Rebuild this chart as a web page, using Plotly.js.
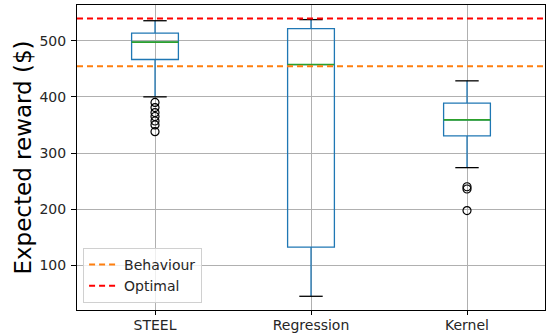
<!DOCTYPE html>
<html>
<head>
<meta charset="utf-8">
<script src="https://cdn.plot.ly/plotly-3.0.1.min.js"></script>
<style>html,body{margin:0;padding:0;background:#fff;}#chart{width:550px;height:335px;}</style>
</head>
<body>
<div id="chart"></div>
<script>
// Data
const categories = ["STEEL", "Regression", "Kernel"];
const positions = [1, 2, 3];
const lowerWhisker = [400, 45, 274];
const q1 = [466.5, 132.5, 330.5];
const median = [497.5, 457.5, 359];
const q3 = [513.5, 521.5, 389];
const upperWhisker = [535.5, 537.5, 428.5];
const outliersSTEEL = [390, 381, 372, 365, 357, 350, 338];
const outliersRegression = [];
const outliersKernel = [240, 236, 197.5];
const behaviourValue = 454.5;
const optimalValue = 539.5;

const outliers = [outliersSTEEL, outliersRegression, outliersKernel];
const boxWidth = 0.3;
const capHalf = 0.075;
const traces = [];

// boxes
categories.forEach((c, i) => {
  traces.push({
    type: "box", x: [positions[i]], q1: [q1[i]], median: [median[i]], q3: [q3[i]],
    lowerfence: [lowerWhisker[i]], upperfence: [upperWhisker[i]],
    width: boxWidth, whiskerwidth: 0, fillcolor: "rgba(0,0,0,0)",
    line: {color: "#1f77b4", width: 1.3}, boxpoints: false,
    showlegend: false, hoverinfo: "skip", name: c
  });
});
// caps (black)
categories.forEach((c, i) => {
  [lowerWhisker[i], upperWhisker[i]].forEach(v => {
    traces.push({type: "scatter", mode: "lines", x: [positions[i] - capHalf, positions[i] + capHalf], y: [v, v],
      line: {color: "#000", width: 1.3}, showlegend: false, hoverinfo: "skip"});
  });
});
// medians (green)
categories.forEach((c, i) => {
  traces.push({type: "scatter", mode: "lines", x: [positions[i] - boxWidth/2, positions[i] + boxWidth/2], y: [median[i], median[i]],
    line: {color: "#2ca02c", width: 1.6}, showlegend: false, hoverinfo: "skip"});
});
// outliers
categories.forEach((c, i) => {
  if (outliers[i].length) traces.push({type: "scatter", mode: "markers",
    x: outliers[i].map(() => positions[i]), y: outliers[i],
    marker: {symbol: "circle-open", size: 8, color: "#000", line: {width: 1.2}},
    showlegend: false, hoverinfo: "skip"});
});
// reference lines
traces.push({type: "scatter", mode: "lines", x: [0.5, 3.5], y: [behaviourValue, behaviourValue],
  name: "Behaviour", line: {color: "#ff7f0e", width: 2, dash: "6px,4px"}});
traces.push({type: "scatter", mode: "lines", x: [0.5, 3.5], y: [optimalValue, optimalValue],
  name: "Optimal", line: {color: "#ff0000", width: 2, dash: "6px,4px"}});

const font = {family: "DejaVu Sans", size: 14, color: "#262626"};
const layout = {
  width: 550, height: 335,
  margin: {l: 77, r: 5, t: 5, b: 25},
  paper_bgcolor: "#fff", plot_bgcolor: "#fff",
  font: font,
  showlegend: true,
  legend: {x: 0.013, y: 0.023, xanchor: "left", yanchor: "bottom",
    bgcolor: "rgba(255,255,255,0.8)", bordercolor: "#d0d0d0", borderwidth: 1,
    itemwidth: 30,
    font: {family: "DejaVu Sans", size: 14, color: "#262626"}, tracegroupgap: 0},
  xaxis: {range: [0.5, 3.5], tickvals: positions, ticktext: categories,
    showgrid: true, gridcolor: "#b0b0b0", gridwidth: 1, zeroline: false,
    showline: true, mirror: true, linecolor: "#000", linewidth: 1,
    ticks: "outside", ticklen: 4, tickcolor: "#000", ticklabelstandoff: -2, tickfont: {size: 14}},
  yaxis: {range: [20.6, 563.5], tickvals: [100, 200, 300, 400, 500],
    showgrid: true, gridcolor: "#b0b0b0", gridwidth: 1, zeroline: false,
    showline: true, mirror: true, linecolor: "#000", linewidth: 1,
    ticks: "outside", ticklen: 5, tickcolor: "#000", ticklabelstandoff: 2,
    title: {text: "Expected reward ($)", font: {family: "DejaVu Sans", size: 23, color: "#000"}, standoff: 1}}
};
Plotly.newPlot("chart", traces, layout, {displayModeBar: false, staticPlot: true});
</script>
</body>
</html>
